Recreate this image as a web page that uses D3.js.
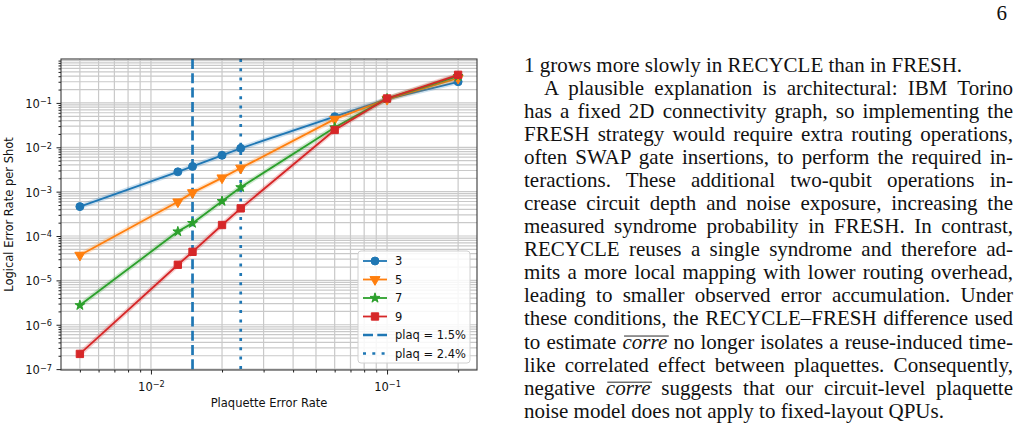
<!DOCTYPE html>
<html>
<head>
<meta charset="utf-8">
<script src="https://cdn.jsdelivr.net/npm/d3@7"></script>
<style>
  body { margin: 0; background: #fff; }
  svg { display: block; }
</style>
</head>
<body>
<script>
"use strict";

// plaquette error rates (x) and logical error rate per shot, one list per distance
var plaqRates = [0.005, 0.013, 0.015, 0.02, 0.024, 0.06, 0.1, 0.2];
var distances = ["3", "5", "7", "9"];
var errD3 = [4.6e-4, 2.8e-3, 3.7e-3, 6.6e-3, 9.5e-3, 0.049, 0.122, 0.30];
var errD5 = [3.7e-5, 5.9e-4, 9.5e-4, 2.05e-3, 3.4e-3, 0.043, 0.121, 0.36];
var errD7 = [2.75e-6, 1.26e-4, 1.95e-4, 6.1e-4, 1.25e-3, 0.028, 0.125, 0.40];
var errD9 = [2.2e-7, 2.25e-5, 4.4e-5, 1.77e-4, 4.2e-4, 0.0246, 0.126, 0.43];

// vertical reference lines
var plaqMarks = [0.015, 0.024];
var plaqLabels = ["plaq = 1.5%", "plaq = 2.4%"];

// labelled decades
var xTickExps = [-2, -1];
var yTickExps = [-7, -6, -5, -4, -3, -2, -1];

// right hand column of the page
var pageNumber = "6";
var paraLines = [
  { t: "1 grows more slowly in RECYCLE than in FRESH.", indent: false, justify: false },
  { t: "A plausible explanation is architectural: IBM Torino", indent: true, justify: true },
  { t: "has a fixed 2D connectivity graph, so implementing the", indent: false, justify: true },
  { t: "FRESH strategy would require extra routing operations,", indent: false, justify: true },
  { t: "often SWAP gate insertions, to perform the required in-", indent: false, justify: true },
  { t: "teractions.  These additional two-qubit operations in-", indent: false, justify: true },
  { t: "crease circuit depth and noise exposure, increasing the", indent: false, justify: true },
  { t: "measured syndrome probability in FRESH. In contrast,", indent: false, justify: true },
  { t: "RECYCLE reuses a single syndrome and therefore ad-", indent: false, justify: true },
  { t: "mits a more local mapping with lower routing overhead,", indent: false, justify: true },
  { t: "leading to smaller observed error accumulation.  Under", indent: false, justify: true },
  { t: "these conditions, the RECYCLE\u2013FRESH difference used", indent: false, justify: true },
  { t: "to estimate {corre} no longer isolates a reuse-induced time-", indent: false, justify: true },
  { t: "like correlated effect between plaquettes. Consequently,", indent: false, justify: true },
  { t: "negative {corre} suggests that our circuit-level plaquette", indent: false, justify: true },
  { t: "noise model does not apply to fixed-layout QPUs.", indent: false, justify: false }
];

var W = 1019, H = 429;
var colors = ["#1f77b4", "#ff7f0e", "#2ca02c", "#d62728"];
var seriesData = [errD3, errD5, errD7, errD9];

var svg = d3.select("body").append("svg")
    .attr("width", W)
    .attr("height", H);

/*
  chart
*/
var plotL = 61, plotR = 477, plotT = 59, plotB = 370;
var sans = "'DejaVu Sans', sans-serif";

var x = d3.scaleLog()
    .domain([Math.pow(10, -2.381), Math.pow(10, -0.619)])
    .range([plotL, plotR]);
var y = d3.scaleLog()
    .domain([Math.pow(10, -7.02), Math.pow(10, -0.01)])
    .range([plotB, plotT]);

var xMajor = xTickExps.map(function (e) { return Math.pow(10, e); });
var yMajor = yTickExps.map(function (e) { return Math.pow(10, e); });
var isPow10 = function (v) { return Math.abs(Math.log10(v) - Math.round(Math.log10(v))) < 1e-9; };
var xMinor = x.ticks().filter(function (v) { return !isPow10(v); });
var yMinor = y.ticks().filter(function (v) { return !isPow10(v); });
var yAll = y.ticks();
var xAll = x.ticks();

var chart = svg.append("g").attr("class", "chart");

// grid, major and minor
chart.append("g").selectAll("line")
    .data(xAll).enter().append("line")
    .attr("x1", function (d) { return x(d); })
    .attr("x2", function (d) { return x(d); })
    .attr("y1", plotT).attr("y2", plotB)
    .style("stroke", "#c9c9c9").style("stroke-width", 1.2);
chart.append("g").selectAll("line")
    .data(yAll).enter().append("line")
    .attr("y1", function (d) { return y(d); })
    .attr("y2", function (d) { return y(d); })
    .attr("x1", plotL).attr("x2", plotR)
    .style("stroke", "#c9c9c9").style("stroke-width", 1.2);

// reference lines
var dashes = ["10,4.3", "3,6.3"];
chart.append("g").selectAll("line")
    .data(plaqMarks).enter().append("line")
    .attr("x1", function (d) { return x(d); })
    .attr("x2", function (d) { return x(d); })
    .attr("y1", plotT).attr("y2", plotB)
    .style("stroke", colors[0])
    .style("stroke-width", 2.7)
    .style("stroke-dasharray", function (d, i) { return dashes[i]; });

// series
var lineGen = d3.line()
    .x(function (d) { return x(d[0]); })
    .y(function (d) { return y(d[1]); });

var symbols = [d3.symbolCircle, d3.symbolTriangle, d3.symbolStar, d3.symbolSquare];
var symSizes = [50, 44, 30, 54];
var symRot = [0, 180, 0, 0];

function drawMarker(g, i) {
  return g.append("path")
      .attr("d", d3.symbol().type(symbols[i]).size(symSizes[i])())
      .style("fill", colors[i])
      .style("stroke", colors[i])
      .style("stroke-width", 1);
}

seriesData.forEach(function (vals, i) {
  var pts = plaqRates.map(function (p, k) { return [p, vals[k]]; });
  var g = chart.append("g");
  g.append("path").datum(pts)
      .attr("d", lineGen)
      .style("fill", "none").style("stroke", colors[i])
      .style("stroke-width", 5).style("opacity", 0.22);
  g.append("path").datum(pts)
      .attr("d", lineGen)
      .style("fill", "none").style("stroke", colors[i])
      .style("stroke-width", 1.8);
  pts.forEach(function (p) {
    drawMarker(g, i).attr("transform", "translate(" + x(p[0]) + "," + y(p[1]) + ") rotate(" + symRot[i] + ")");
  });
});

// spines
chart.append("rect")
    .attr("x", plotL).attr("y", plotT)
    .attr("width", plotR - plotL).attr("height", plotB - plotT)
    .style("fill", "none").style("stroke", "#3a3a3a").style("stroke-width", 1.1);

// ticks
function supLabel(sel) {
  sel.each(function (d) {
    var t = d3.select(this);
    var e = Math.round(Math.log10(d));
    t.text("");
    t.append("tspan").text("10");
    t.append("tspan").attr("dy", "-0.45em").style("font-size", "8.2px")
        .text((e < 0 ? "\u2212" : "") + Math.abs(e));
  });
}

var xAxis = chart.append("g").attr("transform", "translate(0," + plotB + ")");
xAxis.call(d3.axisBottom(x).tickValues(xMinor).tickSize(2.5).tickFormat(""));
var xAxisMaj = chart.append("g").attr("transform", "translate(0," + plotB + ")");
xAxisMaj.call(d3.axisBottom(x).tickValues(xMajor).tickSize(4.5).tickPadding(4.5).tickFormat(""));
xAxisMaj.selectAll(".tick text").call(supLabel);

var yAxis = chart.append("g").attr("transform", "translate(" + plotL + ",0)");
yAxis.call(d3.axisLeft(y).tickValues(yMinor).tickSize(2.5).tickFormat(""));
var yAxisMaj = chart.append("g").attr("transform", "translate(" + plotL + ",0)");
yAxisMaj.call(d3.axisLeft(y).tickValues(yMajor).tickSize(4.5).tickPadding(4.5).tickFormat(""));
yAxisMaj.selectAll(".tick text").call(supLabel);

chart.selectAll(".domain").remove();
chart.selectAll(".tick line").style("stroke", "#222").style("stroke-width", 1);
chart.selectAll(".tick text")
    .style("font-family", sans).style("font-size", "11.5px").style("fill", "#111");
xAxisMaj.selectAll(".tick text").attr("y", 10).attr("dy", "0.95em");
yAxisMaj.selectAll(".tick text").attr("dy", "0.4em");

// axis titles
chart.append("text")
    .attr("x", (plotL + plotR) / 2).attr("y", 407)
    .attr("text-anchor", "middle")
    .style("font-family", sans).style("font-size", "11.5px").style("fill", "#111")
    .text("Plaquette Error Rate");
chart.append("text")
    .attr("transform", "translate(13," + ((plotT + plotB) / 2) + ") rotate(-90)")
    .attr("text-anchor", "middle")
    .style("font-family", sans).style("font-size", "11.5px").style("fill", "#111")
    .text("Logical Error Rate per Shot");

// legend
var legend = chart.append("g");
legend.append("rect")
    .attr("x", 358).attr("y", 251).attr("width", 112).attr("height", 112)
    .attr("rx", 3)
    .style("fill", "#fff").style("fill-opacity", 0.85)
    .style("stroke", "#d0d0d0").style("stroke-width", 1);

var legendItems = distances.concat(plaqLabels);
legendItems.forEach(function (lab, i) {
  var cy = 261 + i * 18.5;
  var ln = legend.append("line")
      .attr("x1", 363).attr("x2", 387).attr("y1", cy).attr("y2", cy)
      .style("stroke", i < 4 ? colors[i] : colors[0]);
  if (i < 4) {
    ln.style("stroke-width", 1.8);
    drawMarker(legend, i).attr("transform", "translate(375," + cy + ") rotate(" + symRot[i] + ")");
  } else {
    ln.style("stroke-width", 2.7).style("stroke-dasharray", dashes[i - 4]);
  }
  legend.append("text")
      .attr("x", 395).attr("y", cy).attr("dy", "0.36em")
      .style("font-family", sans).style("font-size", "11.5px").style("fill", "#111")
      .text(lab);
});

/*
  text column
*/
var serif = "'Liberation Serif', 'Times New Roman', serif";
var col = svg.append("g")
    .style("font-family", serif)
    .style("font-size", "21px")
    .style("fill", "#111");

svg.append("text")
    .attr("x", 1007).attr("y", 20)
    .attr("text-anchor", "end")
    .style("font-family", serif).style("font-size", "21px").style("fill", "#111")
    .text(pageNumber);

var colLeft = 524, colRight = 1013, lineY0 = 71.7, lineStep = 23.07;

paraLines.forEach(function (ln, i) {
  var x0 = ln.indent ? 544 : colLeft;
  var yb = lineY0 + i * lineStep;
  var t = col.append("text").attr("x", x0).attr("y", yb);
  var parts = ln.t.replace(/  /g, " ").split(/(\{[^}]+\})/);
  var plain = "";
  var marks = [];
  parts.forEach(function (p) {
    if (!p) return;
    if (p.charAt(0) === "{") {
      var w = p.slice(1, -1);
      marks.push([plain.length, plain.length + w.length - 1]);
      t.append("tspan").style("font-style", "italic").text(w);
      plain += w;
    } else {
      t.append("tspan").text(p);
      plain += p;
    }
  });
  if (ln.justify) {
    var natural = t.node().getComputedTextLength();
    var nSpaces = (plain.match(/ /g) || []).length;
    if (nSpaces > 0) t.attr("word-spacing", (colRight - x0 - natural) / nSpaces);
  }
  marks.forEach(function (m) {
    var n = t.node();
    var a = n.getStartPositionOfChar(m[0]).x;
    var b = n.getEndPositionOfChar(m[1]).x;
    col.append("line")
        .attr("x1", a + 1.5).attr("x2", b + 1.5)
        .attr("y1", yb - 12.5).attr("y2", yb - 12.5)
        .style("stroke", "#111").style("stroke-width", 0.9);
  });
});
</script>
</body>
</html>
